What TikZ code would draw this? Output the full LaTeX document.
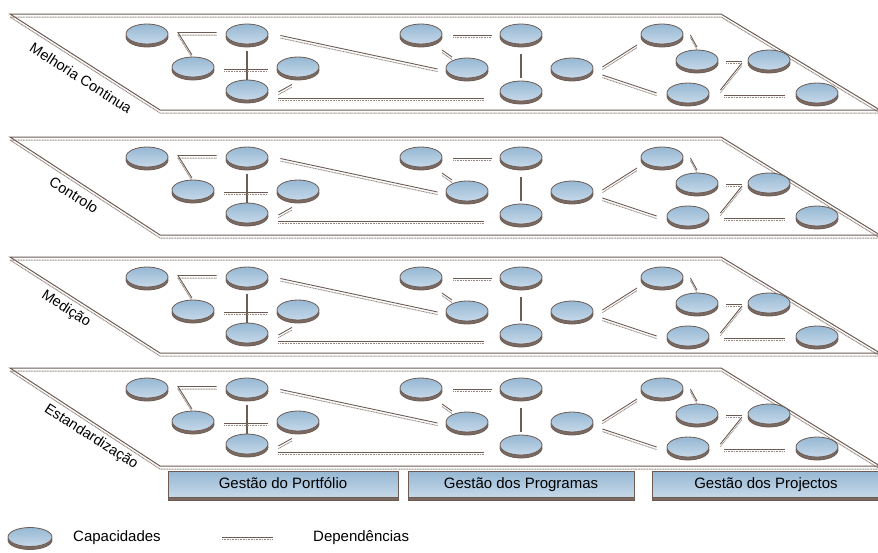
\documentclass[tikz,border=0pt]{standalone}
\usepackage{fontspec}
\setmainfont{Liberation Sans}
\usetikzlibrary{shapes.geometric,shadows,calc}

\definecolor{linec}{RGB}{108,92,84}
\definecolor{dotc}{RGB}{150,136,128}
\definecolor{shadc}{RGB}{122,106,98}
\definecolor{capTop}{RGB}{150,184,212}
\definecolor{capBot}{RGB}{198,216,232}

\tikzset{
  capnode/.style={ellipse, minimum width=42pt, minimum height=20pt, inner sep=0pt,
    draw=linec, line width=0.8pt, top color=capTop, bottom color=capBot,
    drop shadow={shadow xshift=0pt, shadow yshift=-3pt, opacity=1, fill=shadc, draw=linec}},
  dep/.style={draw=linec, line width=0.9pt,
    preaction={draw=dotc, line width=0.9pt, dash pattern=on 1pt off 0.6pt,
      transform canvas={yshift=-2.6pt}}},
  tie/.style={draw=linec, line width=1.1pt},
  layerline/.style={draw=linec, line width=1pt,
    preaction={draw=dotc, line width=1pt, dash pattern=on 1pt off 0.6pt,
      transform canvas={yshift=-3pt}}},
  groupbox/.style={rectangle, draw=linec, line width=0.8pt, top color=capTop,
    bottom color=capBot, minimum height=26pt, inner sep=0pt,
    text height=11pt, text depth=3pt,
    font=\fontsize{15}{18}\selectfont,
    drop shadow={shadow xshift=0pt, shadow yshift=-3pt, opacity=1, fill=shadc, draw=linec}},
  layerlabel/.style={font=\fontsize{14.5}{17}\selectfont, rotate=-32.6, inner sep=0pt},
  legendtext/.style={font=\fontsize{15}{18}\selectfont, anchor=west, inner sep=0pt},
}

\begin{document}
\begin{tikzpicture}[x=1pt, y=-1pt]
\useasboundingbox (0,0) rectangle (878,552);

\foreach \n/\ty/\by/\lab/\lx/\ly in {
    1/14/110/{Melhoria Continua}/81/64,
    2/137/235/{Controlo}/74/58,
    3/257/353/{Medição}/66/52,
    4/368/466/{Estandardização}/91/69} {
  % layer plane
  \draw[layerline] (10,\ty) -- (721,\ty) -- (880,\by) -- (160,\by) -- cycle;
  \node[layerlabel] (lab\n) at (\lx,\ty+\ly) {\lab};

  % capabilities
  \node[capnode] (A\n) at (147,\ty+20) {};
  \node[capnode] (B\n) at (247,\ty+20) {};
  \node[capnode] (C\n) at (193,\ty+53) {};
  \node[capnode] (D\n) at (247,\ty+76) {};
  \node[capnode] (E\n) at (298,\ty+53) {};
  \node[capnode] (F\n) at (421,\ty+20) {};
  \node[capnode] (G\n) at (467,\ty+54) {};
  \node[capnode] (H\n) at (521,\ty+20) {};
  \node[capnode] (I\n) at (521,\ty+77) {};
  \node[capnode] (J\n) at (572,\ty+54) {};
  \node[capnode] (K\n) at (662,\ty+20) {};
  \node[capnode] (L\n) at (697,\ty+46) {};
  \node[capnode] (M\n) at (769,\ty+46) {};
  \node[capnode] (N\n) at (688,\ty+79) {};
  \node[capnode] (O\n) at (817,\ty+79) {};

  % dependencies
  \coordinate (k\n) at (178,\ty+18.5);
  \draw[dep, shorten <=2pt, shorten >=9pt] (C\n.north) -- (k\n) -- (k\n -| B\n.west);
  \draw[tie, shorten <=7pt] (B\n.south) -- (D\n.north);
  \draw[dep, shorten <=10pt, shorten >=9pt] ([yshift=-2pt]C\n.east) -- ([yshift=-2pt]E\n.west);
  \draw[dep] ([shift={(10pt,-2pt)}]D\n.east) -- ([shift={(-6pt,-7pt)}]E\n.south);
  \draw[dep] ([shift={(10pt,-8pt)}]D\n.east) -- ([shift={(-16pt,-7pt)}]I\n.west);
  \draw[dep] ([shift={(12pt,-1.5pt)}]B\n.east) -- ([shift={(-8pt,-1pt)}]G\n.west);
  \draw[dep] ([shift={(11pt,-1pt)}]F\n.east) -- ([shift={(-8pt,-1pt)}]H\n.west);
  \draw[dep] ([shift={(21pt,-16pt)}]F\n.center) -- ([shift={(-15pt,11pt)}]G\n.center);
  \draw[tie, shorten <=10pt, shorten >=3pt] (H\n.south) -- (I\n.north);
  \draw[dep] ([shift={(9pt,1pt)}]J\n.east) -- ([shift={(-25pt,-11pt)}]K\n.center);
  \draw[dep] ([shift={(9pt,-7pt)}]J\n.east) -- ([shift={(-10pt,0pt)}]N\n.west);
  \draw[dep] ([shift={(7pt,-1pt)}]K\n.east) -- ([shift={(0pt,2.5pt)}]L\n.north);
  \draw[dep] ([shift={(8pt,-1pt)}]L\n.east) -- ([shift={(-6pt,-1pt)}]M\n.west);
  \draw[dep] ([shift={(11pt,3pt)}]N\n.east) -- ([shift={(-27pt,-3pt)}]M\n.center);
  \draw[dep] ([shift={(15pt,-2pt)}]N\n.east) -- ([shift={(-11pt,-2pt)}]O\n.west);
}

% management areas
\node[groupbox, minimum width=230pt] (port) at (283,484) {Gestão do Portfólio};
\node[groupbox, minimum width=226pt] (prog) at (521,484) {Gestão dos Programas};
\node[groupbox, minimum width=228pt] (proj) at (766,484) {Gestão dos Projectos};

% legend
\node[capnode, minimum width=44pt, minimum height=19pt] (legcap) at (30,537) {};
\node[legendtext] (legcapt) at (73,538) {Capacidades};
\coordinate (ld1) at (222,537);
\coordinate (ld2) at (273,537);
\draw[dep] (ld1) -- (ld2);
\node[legendtext] (legdept) at (313,538) {Dependências};
\end{tikzpicture}
\end{document}
